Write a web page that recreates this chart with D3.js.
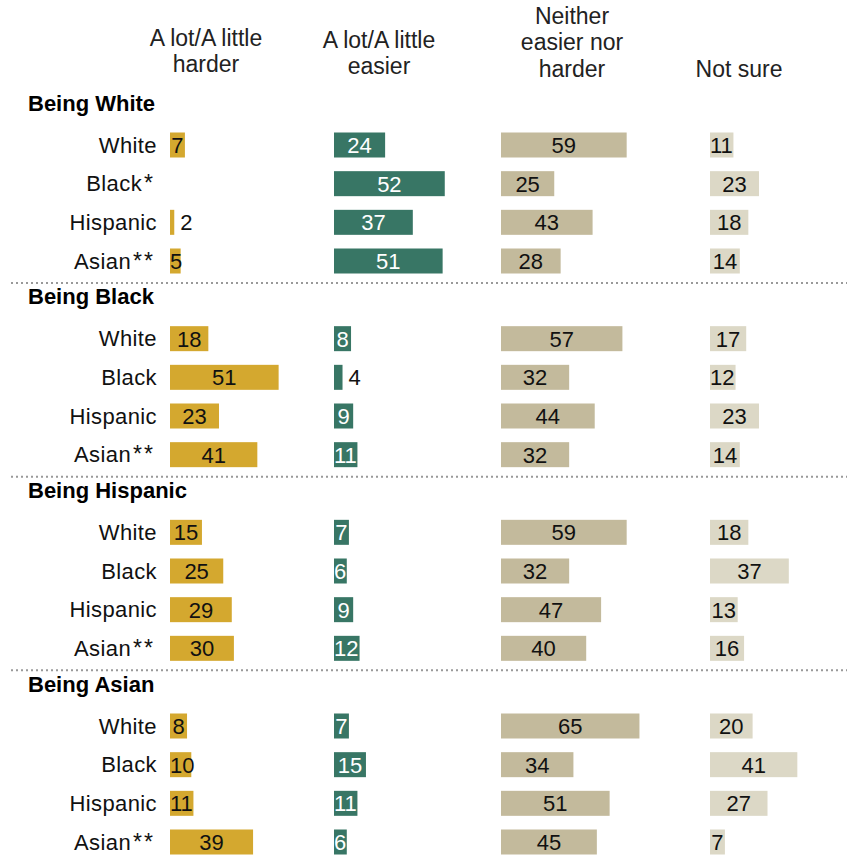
<!DOCTYPE html>
<html>
<head>
<meta charset="utf-8">
<script src="https://cdn.jsdelivr.net/npm/d3@7"></script>
<style>
  html, body { margin: 0; padding: 0; background: #fff; }
  svg { display: block; }
</style>
</head>
<body>
<svg id="chart" width="847" height="855"></svg>
<script>
// ---- Data ----
const groups = ["Being White", "Being Black", "Being Hispanic", "Being Asian"];
const rowLabels = [
  ["White", "Black*", "Hispanic", "Asian**"],
  ["White", "Black", "Hispanic", "Asian**"],
  ["White", "Black", "Hispanic", "Asian**"],
  ["White", "Black", "Hispanic", "Asian**"]
];
const columns = [
  ["A lot/A little", "harder"],
  ["A lot/A little", "easier"],
  ["Neither", "easier nor", "harder"],
  ["Not sure"]
];
const harder = [
  [7, null, 2, 5],
  [18, 51, 23, 41],
  [15, 25, 29, 30],
  [8, 10, 11, 39]
];
const easier = [
  [24, 52, 37, 51],
  [8, 4, 9, 11],
  [7, 6, 9, 12],
  [7, 15, 11, 6]
];
const neither = [
  [59, 25, 43, 28],
  [57, 32, 44, 32],
  [59, 32, 47, 40],
  [65, 34, 51, 45]
];
const notSure = [
  [11, 23, 18, 14],
  [17, 12, 23, 14],
  [18, 37, 13, 16],
  [20, 41, 27, 7]
];
const series = [harder, easier, neither, notSure];

// ---- Styles ----
const colors = ["#D4A82F", "#387665", "#C3BA9C", "#DCD8C6"];
const textColors = ["#111", "#fff", "#111", "#111"];
const colStart = [170, 334, 501, 710];
const headerCenters = [206, 379, 572, 739];
const headerLineY = [[38, 64], [40, 66], [16, 42, 69], [69]];
const font = "'Liberation Sans', Arial, sans-serif";

const svg = d3.select("#chart");

const x = d3.scaleLinear().domain([0, 100]).range([0, 213]);
const yGroup = d3.scaleLinear().domain([0, 3]).range([103, 684]);
const yRow = d3.scaleLinear().domain([0, 3]).range([0, 116]);
const rowOffset = 42;
const barH = 25;

// Column headers
columns.forEach((lines, c) => {
  lines.forEach((ln, i) => {
    svg.append("text")
      .attr("x", headerCenters[c])
      .attr("y", headerLineY[c][i])
      .attr("dy", "0.35em")
      .attr("text-anchor", "middle")
      .style("font-family", font)
      .style("font-size", "23px")
      .style("fill", "#222")
      .text(ln);
  });
});

// Measure helper
const measure = svg.append("text").style("font-family", font).style("font-size", "22px").attr("visibility", "hidden");
function textWidth(s) { measure.text(s); return measure.node().getComputedTextLength(); }

groups.forEach((gName, g) => {
  const gy = yGroup(g);
  svg.append("text")
    .attr("x", 28)
    .attr("y", gy)
    .attr("dy", "0.35em")
    .style("font-family", font)
    .style("font-weight", "bold")
    .style("font-size", "22px")
    .style("fill", "#000")
    .text(gName);

  rowLabels[g].forEach((lab, r) => {
    const cy = gy + rowOffset + yRow(r);
    const base = lab.replace(/\*+$/, "");
    const stars = lab.slice(base.length);
    const t = svg.append("text")
      .attr("x", stars ? 155 : 157)
      .attr("y", cy)
      .attr("dy", "0.35em")
      .attr("text-anchor", "end")
      .style("font-family", font)
      .style("font-size", "22px")
      .style("fill", "#111");
    t.append("tspan").style("letter-spacing", "0.4px").text(base);
    if (stars) {
      t.append("tspan").attr("dx", 2).style("letter-spacing", "2px").style("font-size", "23px").text(stars);
    }

    series.forEach((s, c) => {
      const v = s[g][r];
      if (v == null) return;
      const x0 = colStart[c];
      const w = x(v);
      svg.append("rect")
        .attr("x", x0)
        .attr("y", cy - barH / 2)
        .attr("width", w)
        .attr("height", barH)
        .attr("fill", colors[c]);
      const label = String(v);
      const tw = textWidth(label);
      let tx, anchor = "middle", fill = textColors[c];
      if (v <= 4) {
        tx = x0 + w + 6; anchor = "start"; fill = "#111";
      } else if (tw + 2 < w) {
        tx = x0 + w / 2;
      } else {
        tx = x0; anchor = "start";
      }
      svg.append("text")
        .attr("x", tx)
        .attr("y", cy)
        .attr("dy", "0.36em")
        .attr("text-anchor", anchor)
        .style("font-family", font)
        .style("font-size", "22px")
        .style("fill", fill)
        .text(label);
    });
  });

  if (g < groups.length - 1) {
    svg.append("line")
      .attr("x1", 11).attr("x2", 847)
      .attr("y1", gy + 180).attr("y2", gy + 180)
      .attr("stroke", "#999")
      .attr("stroke-width", 2)
      .attr("stroke-dasharray", "2,3");
  }
});
measure.remove();
</script>
</body>
</html>
